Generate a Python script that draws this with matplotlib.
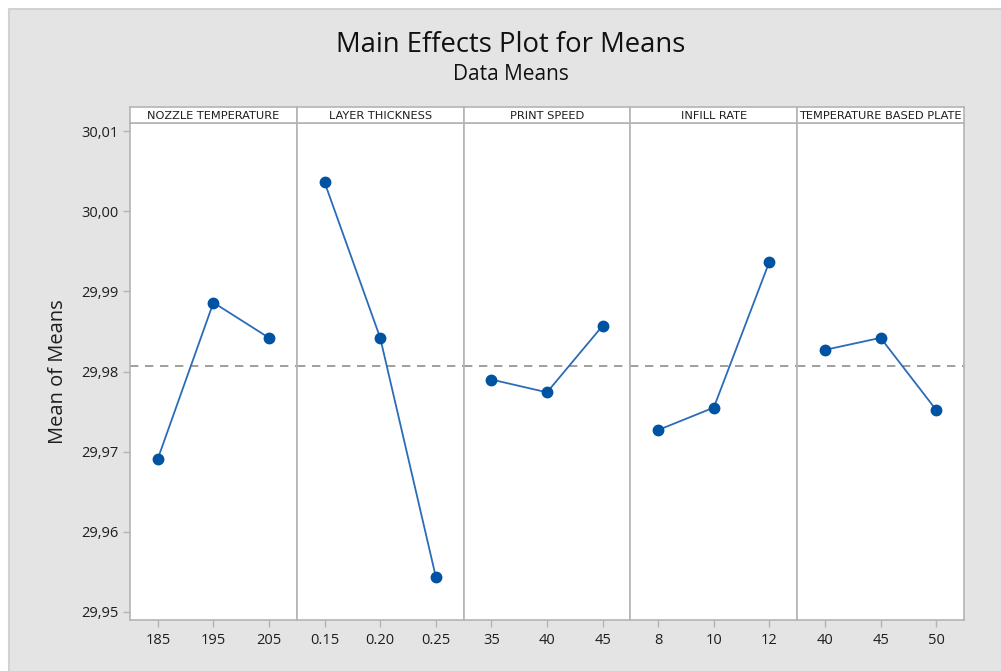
import numpy as np
import matplotlib
matplotlib.use('Agg')
import matplotlib.pyplot as plt
from matplotlib.ticker import FuncFormatter
from matplotlib.patches import Rectangle

# factors and their levels
factors = ['NOZZLE TEMPERATURE', 'LAYER THICKNESS', 'PRINT SPEED',
           'INFILL RATE', 'TEMPERATURE BASED PLATE']
levels = [
  ['185', '195', '205'],
  ['0.15', '0.20', '0.25'],
  ['35', '40', '45'],
  ['8', '10', '12'],
  ['40', '45', '50'],
]

# mean of means per level
nozzle_temp = [29.9691, 29.9886, 29.9842]
layer_thickness = [30.0036, 29.9842, 29.9544]
print_speed = [29.9790, 29.9774, 29.9857]
infill_rate = [29.9727, 29.9755, 29.9937]
plate_temp = [29.9827, 29.9842, 29.9752]
means = [nozzle_temp, layer_thickness, print_speed, infill_rate, plate_temp]
y_ticks = [29.95, 29.96, 29.97, 29.98, 29.99, 30.00, 30.01]

BG = '#e4e4e4'
EDGE = '#b4b4b4'
LINE = '#2b6cb8'
DOT = '#0053a3'
TXT = '#1e1e1e'

plt.rcParams['font.family'] = ['Open Sans', 'DejaVu Sans']

W, H = 1001, 671
fig = plt.figure(figsize=(W / 100, H / 100), dpi=100, facecolor=BG)

# white margin top / left like the screenshot
fig.patches.append(Rectangle((0, 0), 9 / W, 1, transform=fig.transFigure,
                             facecolor='white', edgecolor='none'))
fig.patches.append(Rectangle((0, 1 - 9 / H), 1, 9 / H, transform=fig.transFigure,
                             facecolor='white', edgecolor='none'))
fig.patches.append(Rectangle((9 / W, -0.01), 1, 1 - 9 / H + 0.01,
                             transform=fig.transFigure, facecolor='none',
                             edgecolor='#d2d2d2', lw=1.5))

grand_mean = np.mean(np.concatenate(means))

left, right = 130, 964
top, bottom = 123, 620
strip_h = 16
pw = (right - left) / len(factors)

fmt = FuncFormatter(lambda v, _: f'{v:.2f}'.replace('.', ','))

for i, (name, lv, m) in enumerate(zip(factors, levels, means)):
  x0 = left + i * pw
  ax = fig.add_axes([x0 / W, 1 - bottom / H, pw / W, (bottom - top) / H])
  ax.set_facecolor('white')
  xs = np.arange(len(lv))
  ax.axhline(grand_mean, color='#8f8f8f', lw=1.2, ls=(0, (5, 4)), zorder=1)
  ax.plot(xs, m, color=LINE, lw=1.3, marker='o', ms=7.5,
          mfc=DOT, mec=DOT, zorder=3)
  ax.set_xlim(-0.5, 2.5)
  ax.set_ylim(29.949, 30.011)
  ax.set_xticks(xs)
  ax.set_xticklabels(lv, fontsize=10.5, color=TXT)
  ax.set_yticks(y_ticks)
  for s in ax.spines.values():
    s.set_color(EDGE)
    s.set_linewidth(1.2)
  ax.tick_params(axis='x', length=5, width=1, color=EDGE, pad=4)
  if i == 0:
    ax.yaxis.set_major_formatter(fmt)
    ax.tick_params(axis='y', length=5, width=1, color=EDGE,
                   labelsize=10.5, labelcolor=TXT, pad=3)
    ax.set_ylabel('Mean of Means', fontsize=14.5, color=TXT, labelpad=10)
  else:
    ax.tick_params(axis='y', length=0, labelleft=False)

  # strip header
  sx = fig.add_axes([x0 / W, 1 - top / H, pw / W, strip_h / H])
  sx.set_facecolor('white')
  sx.set_xticks([])
  sx.set_yticks([])
  for s in sx.spines.values():
    s.set_color(EDGE)
    s.set_linewidth(1.2)
  sx.text(0.5, 0.45, name, ha='center', va='center', fontsize=8.2,
          color=TXT, family='DejaVu Sans')

fig.text(0.51, 1 - 45 / H, 'Main Effects Plot for Means', ha='center',
         va='center', fontsize=19.8, color='#111111')
fig.text(0.51, 1 - 75 / H, 'Data Means', ha='center', va='center',
         fontsize=15, color='#111111')

fig.savefig('out.png', dpi=100, facecolor=BG)
